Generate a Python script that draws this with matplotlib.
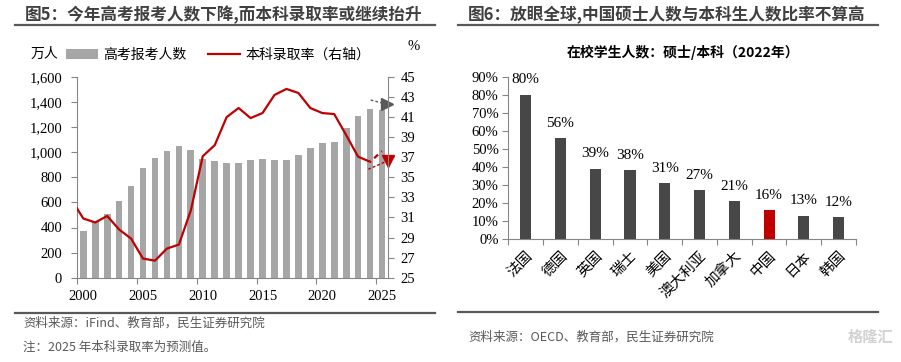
import matplotlib
matplotlib.use('Agg')
import matplotlib.pyplot as plt
from matplotlib.lines import Line2D
from matplotlib.ticker import FuncFormatter

CJK = ['Noto Sans CJK SC', 'DejaVu Sans']
SERIF = ['Liberation Serif', 'DejaVu Serif']

# ---------------- data ----------------
years = list(range(2000, 2026))
applicants = [375, 454, 510, 613, 729, 877, 950, 1010, 1050, 1020, 946, 933, 915,
              912, 939, 942, 940, 940, 975, 1031, 1071, 1078, 1193, 1291, 1342, 1335]
rate_years = list(range(1999, 2026))
rate = [32.8, 30.9, 30.5, 31.15, 29.8, 28.9, 26.9, 26.7, 27.9, 28.3, 31.7, 37.1, 38.2,
        41.0, 41.9, 40.9, 41.4, 43.2, 43.8, 43.4, 41.9, 41.4, 41.3, 39.2, 37.05, 36.55, 37.6]
year_ticks = [2000, 2005, 2010, 2015, 2020, 2025]
left_yticks = list(range(0, 1601, 200))
right_yticks = list(range(25, 46, 2))

countries = ['法国', '德国', '英国', '瑞士', '美国', '澳大利亚', '加拿大', '中国', '日本', '韩国']
ratio = [80, 56, 39, 38, 31, 27, 21, 16, 13, 12]
ratio_ticks = list(range(0, 91, 10))

GRAY_BAR = '#a6a6a6'
RED = '#c00000'
DARK = '#474747'
SPINE = '#868686'
TXT = '#404040'

fig = plt.figure(figsize=(9.01, 3.62), dpi=100)
W, H = 901, 362

def fx(px):
    return px / W

def fy(py):
    return 1 - py / H

# ---------------- left chart ----------------
ax1 = fig.add_axes([fx(77.3), fy(277.7), fx(388 - 77.3), (277.7 - 76.9) / H])
ax2 = ax1.twinx()

bars = ax1.bar(years, applicants, width=0.56, color=GRAY_BAR, label='高考报考人数', zorder=2)
ax1.set_xlim(1999.5, 2025.5)
ax1.set_ylim(0, 1600)
ax1.set_yticks(left_yticks)
ax1.yaxis.set_major_formatter(FuncFormatter(lambda v, p: f'{int(v):,}'))
ax1.set_xticks(year_ticks)
ax1.set_xticklabels([str(y) for y in year_ticks])
ax1.set_xticks([y - 0.5 for y in year_ticks], minor=True)
ax1.tick_params(axis='x', which='major', length=0, pad=9)
ax1.tick_params(axis='x', which='minor', length=4, width=0.8, color=SPINE, direction='out')
ax1.tick_params(axis='y', length=4, width=0.8, color=SPINE, pad=7)
for lab in ax1.get_xticklabels() + ax1.get_yticklabels():
    lab.set_fontfamily(SERIF)
    lab.set_fontsize(10.5)
for s in ['top', 'right']:
    ax1.spines[s].set_visible(False)
for s in ['left', 'bottom']:
    ax1.spines[s].set_color(SPINE)
    ax1.spines[s].set_linewidth(0.8)

n_act = len(rate) - 1
line, = ax2.plot(rate_years[:n_act], rate[:n_act], color=RED, lw=1.6,
                 label='本科录取率（右轴）', solid_joinstyle='round')
ax2.plot(rate_years[n_act - 1:], rate[n_act - 1:], color=RED, lw=1.6,
         linestyle=(2.0, (2.4, 2.0)))
ax2.set_ylim(25, 45)
ax2.set_yticks(right_yticks)
ax2.tick_params(axis='y', length=4, width=0.8, color=SPINE, pad=5)
for lab in ax2.get_yticklabels():
    lab.set_fontfamily(SERIF)
    lab.set_fontsize(10.5)
for s in ['top', 'left', 'bottom']:
    ax2.spines[s].set_visible(False)
ax2.spines['right'].set_color(SPINE)
ax2.spines['right'].set_linewidth(0.8)

# annotation arrows near right axis
ax2.plot([2024.05, 2025.1], [42.7, 42.37], color='#595959', lw=1, ls=(0, (2, 1.5)), clip_on=False)
ax2.plot([2025.45], [42.3], marker='>', color='#595959', ms=8, clip_on=False)
ax2.plot([2023.85, 2025.2], [35.8, 36.5], color=RED, lw=1, ls=(0, (2, 1.5)), clip_on=False)
ax2.plot([2025.48], [36.6], marker='v', color=RED, ms=8, clip_on=False)

fig.legend(handles=[bars, line], labels=['高考报考人数', '本科录取率（右轴）'],
           loc='center left', bbox_to_anchor=(fx(66), fy(55)), ncol=2, frameon=False,
           prop={'family': CJK, 'size': 10}, handlelength=2.3, handletextpad=0.35,
           columnspacing=1.6, borderpad=0, borderaxespad=0)
fig.text(fx(31), fy(54), '万人', family=CJK, fontsize=10, va='center', ha='left', color='#000000')
fig.text(fx(408), fy(47), '%', family=SERIF, fontsize=10.5, va='center', ha='left')

# titles and rules
fig.text(fx(25), fy(15), '图5：今年高考报考人数下降,而本科录取率或继续抬升', family=CJK,
         fontsize=12, fontweight='bold', color=TXT, va='center', ha='left')
fig.add_artist(Line2D([fx(15), fx(435)], [fy(25), fy(25)], color='#595959', lw=1.6))
fig.add_artist(Line2D([fx(15), fx(435)], [fy(312.7), fy(312.7)], color='#595959', lw=1.6))
fig.text(fx(23), fy(323), '资料来源：iFind、教育部，民生证券研究院', family=CJK, fontsize=9,
         color='#595959', va='center', ha='left')
fig.text(fx(23), fy(347), '注：2025 年本科录取率为预测值。', family=CJK, fontsize=9,
         color='#595959', va='center', ha='left')

# ---------------- right chart ----------------
ax3 = fig.add_axes([fx(508.3), fy(239), fx(856 - 508.3), (239 - 76.7) / H])
colors = [RED if c == '中国' else DARK for c in countries]
xs = list(range(len(countries)))
rb = ax3.bar(xs, ratio, width=0.32, color=colors, zorder=2)
ax3.bar_label(rb, labels=[f'{v}%' for v in ratio], padding=6, fontsize=11,
              fontfamily=SERIF, color='#000000')
ax3.set_xlim(-0.5, len(countries) - 0.5)
ax3.set_ylim(0, 90)
ax3.set_yticks(ratio_ticks)
ax3.yaxis.set_major_formatter(FuncFormatter(lambda v, p: f'{int(v)}%'))
ax3.set_xticks(xs)
ax3.set_xticklabels(countries, rotation=45, ha='right', va='top', rotation_mode='anchor',
                    family=CJK, fontsize=10.5)
ax3.set_xticks([x - 0.5 for x in xs] + [len(countries) - 0.5], minor=True)
ax3.tick_params(axis='x', which='major', length=0, pad=7)
ax3.tick_params(axis='x', which='minor', length=4, width=0.8, color=SPINE)
ax3.tick_params(axis='y', length=4, width=0.8, color=SPINE, pad=3)
for lab in ax3.get_yticklabels():
    lab.set_fontfamily(SERIF)
    lab.set_fontsize(10.5)
for s in ['top', 'right']:
    ax3.spines[s].set_visible(False)
for s in ['left', 'bottom']:
    ax3.spines[s].set_color(SPINE)
    ax3.spines[s].set_linewidth(0.8)

fig.text(fx(683), fy(52), '在校学生人数：硕士/本科（2022年）', family=CJK, fontsize=10,
         fontweight='bold', va='center', ha='center', color='#000000')
fig.text(fx(468), fy(15), '图6：放眼全球,中国硕士人数与本科生人数比率不算高', family=CJK,
         fontsize=12, fontweight='bold', color=TXT, va='center', ha='left')
fig.add_artist(Line2D([fx(458), fx(878)], [fy(25), fy(25)], color='#595959', lw=1.6))
fig.add_artist(Line2D([fx(458), fx(878)], [fy(312.3), fy(312.3)], color='#595959', lw=1.6))
fig.text(fx(468), fy(337), '资料来源：OECD、教育部，民生证券研究院', family=CJK, fontsize=9,
         color='#595959', va='center', ha='left')
fig.text(fx(893), fy(337), '格隆汇', family=CJK, fontsize=11, fontweight='bold',
         color='#d2d2d2', va='center', ha='right')

fig.savefig('out.png', dpi=100)
